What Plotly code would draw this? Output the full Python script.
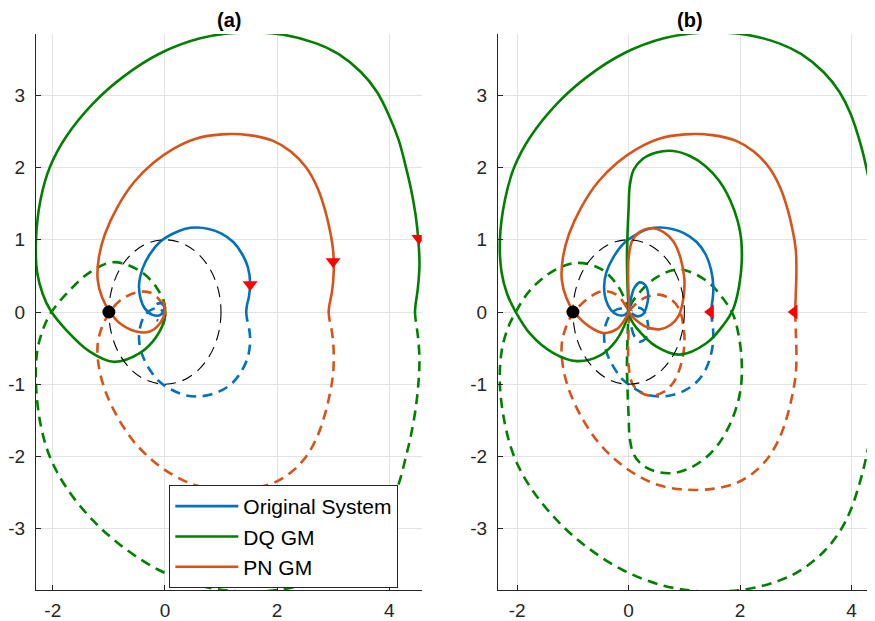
import plotly.graph_objects as go

BLUE = "#0072BD"
ORANGE = "#D95319"
GREEN = "#008000"
RED = "#FF0000"
FONT = "Liberation Sans, Arial, Helvetica, sans-serif"

# ---------------- Panel (a): positive-frequency branches (solid) ----------------
a_orig_re = [1.45, 1.46, 1.50, 1.52, 1.48, 1.38, 1.22, 1.00, 0.78, 0.57, 0.35, 0.13, -0.09, -0.27, -0.40, -0.46, -0.44, -0.36, -0.22, -0.08, -0.01, -0.06, -0.15]
a_orig_im = [0.00, 0.08, 0.22, 0.40, 0.62, 0.80, 0.97, 1.09, 1.15, 1.17, 1.15, 1.08, 0.97, 0.80, 0.60, 0.40, 0.20, 0.05, -0.04, -0.04, 0.05, 0.12, 0.11]

a_dq_re = [4.46, 4.47, 4.51, 4.54, 4.52, 4.47, 4.39, 4.30, 4.17, 3.98, 3.78, 3.50, 3.10, 2.70, 2.11, 1.34, 0.63, -0.09, -0.74, -1.28, -1.76, -2.05, -2.22, -2.30, -2.28, -2.18, -2.04, -1.76, -1.34, -0.92, -0.45, -0.15, 0.00, -0.01, -0.03]
a_dq_im = [0.00, 0.10, 0.32, 0.65, 1.00, 1.35, 1.70, 2.00, 2.38, 2.75, 3.05, 3.32, 3.57, 3.72, 3.84, 3.87, 3.79, 3.58, 3.26, 2.89, 2.43, 2.01, 1.55, 1.00, 0.55, 0.25, 0.02, -0.25, -0.55, -0.69, -0.57, -0.34, -0.07, 0.10, 0.17]

a_pn_re = [2.92, 2.93, 2.98, 3.01, 3.00, 2.95, 2.86, 2.72, 2.52, 2.25, 1.93, 1.50, 1.01, 0.55, 0.15, -0.20, -0.55, -0.85, -1.07, -1.18, -1.20, -1.12, -0.98, -0.80, -0.51, -0.27, -0.09, 0.00, -0.02, -0.05]
a_pn_im = [0.00, 0.08, 0.28, 0.55, 0.85, 1.10, 1.40, 1.72, 2.00, 2.22, 2.37, 2.45, 2.46, 2.40, 2.26, 2.07, 1.80, 1.45, 1.08, 0.75, 0.45, 0.20, 0.00, -0.16, -0.27, -0.27, -0.16, 0.00, 0.12, 0.16]

# direction arrows, panel (a)
a_arrow_re = [1.52, 3.00, 4.53]
a_arrow_im = [0.38, 0.70, 1.02]

# ---------------- Panel (b): positive-frequency branches (solid) ----------------
b_orig_re = [1.48, 1.49, 1.51, 1.52, 1.48, 1.38, 1.22, 1.00, 0.78, 0.57, 0.35, 0.13, -0.10, -0.28, -0.40, -0.44, -0.41, -0.32, -0.20, -0.07, 0.00, 0.04, 0.10, 0.20, 0.30, 0.35, 0.33, 0.26, 0.16, 0.05]
b_orig_im = [0.00, 0.08, 0.20, 0.35, 0.58, 0.80, 0.97, 1.09, 1.15, 1.17, 1.15, 1.07, 0.94, 0.75, 0.55, 0.35, 0.17, 0.03, -0.04, -0.04, 0.02, 0.18, 0.33, 0.41, 0.37, 0.25, 0.10, -0.03, -0.06, -0.02]

b_dq_re = [4.46, 4.47, 4.50, 4.52, 4.50, 4.42, 4.32, 4.17, 3.98, 3.78, 3.50, 3.10, 2.70, 2.11, 1.34, 0.63, -0.09, -0.74, -1.28, -1.76, -2.05, -2.22, -2.31, -2.28, -2.18, -2.04,
           -1.77, -1.35, -0.93, -0.51, -0.22, -0.04, 0.00, 0.04, 0.14, 0.50, 0.92, 1.40, 1.70, 1.88, 1.98, 2.03, 2.02, 1.96, 1.82, 1.62, 1.38, 1.10, 0.80, 0.50, 0.25, 0.09, 0.02, 0.00, -0.03, -0.02, 0.00]
b_dq_im = [0.00, 0.10, 0.32, 0.65, 1.00, 1.37, 1.80, 2.30, 2.75, 3.05, 3.32, 3.57, 3.72, 3.84, 3.87, 3.79, 3.58, 3.26, 2.89, 2.43, 2.01, 1.55, 1.00, 0.55, 0.25, 0.02,
           -0.30, -0.57, -0.68, -0.60, -0.39, -0.12, 0.00, -0.10, -0.22, -0.48, -0.59, -0.43, -0.18, 0.05, 0.35, 0.70, 1.00, 1.25, 1.55, 1.82, 2.02, 2.16, 2.23, 2.21, 2.12, 1.97, 1.75, 1.45, 0.80, 0.35, 0.00]

b_pn_re = [2.98, 2.99, 3.00, 3.01, 3.00, 2.95, 2.86, 2.72, 2.52, 2.25, 1.93, 1.50, 1.01, 0.55, 0.15, -0.20, -0.55, -0.85, -1.07, -1.18, -1.20, -1.12, -0.98, -0.69, -0.46, -0.20, -0.05, 0.00,
           0.00, -0.01, 0.00, 0.06, 0.20, 0.41, 0.62, 0.80, 0.93, 1.00, 0.98, 0.90, 0.75, 0.55, 0.30, 0.10, 0.00]
b_pn_im = [0.00, 0.08, 0.28, 0.55, 0.85, 1.10, 1.40, 1.72, 2.00, 2.22, 2.37, 2.45, 2.46, 2.40, 2.26, 2.07, 1.80, 1.45, 1.08, 0.75, 0.45, 0.20, 0.00, -0.21, -0.29, -0.23, -0.08, 0.00,
           0.20, 0.50, 0.75, 0.98, 1.11, 1.16, 1.11, 0.98, 0.75, 0.45, 0.18, -0.05, -0.18, -0.24, -0.20, -0.09, 0.00]

# direction arrows, panel (b)
b_arrow_re = [1.47, 2.97]
b_arrow_im = [0.00, 0.00]

# critical point and unit circle
crit_re, crit_im = -1.0, 0.0
unit_radius = 1.0

x_ticks = [-2, 0, 2, 4]
x_ticktext = ["-2", "0", "2", "4"]
y_ticks = [-3, -2, -1, 0, 1, 2, 3]
y_ticktext = ["-3", "-2", "-1", "0", "1", "2", "3"]
titles = ["(a)", "(b)"]
legend_names = ["Original System", "DQ GM", "PN GM"]


def conj(v):
    return [-t for t in v]


fig = go.Figure()

panels = [
    ("x", "y", [(a_orig_re, a_orig_im, BLUE), (a_dq_re, a_dq_im, GREEN), (a_pn_re, a_pn_im, ORANGE)],
     a_arrow_re, a_arrow_im, "triangle-down", True),
    ("x2", "y2", [(b_orig_re, b_orig_im, BLUE), (b_dq_re, b_dq_im, GREEN), (b_pn_re, b_pn_im, ORANGE)],
     b_arrow_re, b_arrow_im, "triangle-left", False),
]

for xa, ya, curves, arx, ary, arsym, show in panels:
    # negative-frequency (dashed) branches
    for (re, im, col) in curves:
        fig.add_trace(go.Scatter(x=re, y=conj(im), mode="lines", xaxis=xa, yaxis=ya,
                                 line=dict(color=col, width=2.6, dash="10px,6.5px", shape="spline", smoothing=1.0),
                                 showlegend=False, hoverinfo="skip"))
    for (re, im, col), name in zip(curves, legend_names):
        fig.add_trace(go.Scatter(x=re, y=im, mode="lines", xaxis=xa, yaxis=ya, name=name,
                                 line=dict(color=col, width=2.6, shape="spline", smoothing=1.0),
                                 showlegend=show, hoverinfo="skip"))
    fig.add_trace(go.Scatter(x=arx, y=ary, mode="markers", xaxis=xa, yaxis=ya,
                             marker=dict(symbol=arsym, size=13, color=RED, line=dict(width=0)),
                             showlegend=False, hoverinfo="skip"))
    fig.add_trace(go.Scatter(x=[crit_re], y=[crit_im], mode="markers", xaxis=xa, yaxis=ya,
                             marker=dict(symbol="circle", size=13, color="black"),
                             showlegend=False, hoverinfo="skip"))
    fig.add_shape(type="circle", xref=xa, yref=ya, x0=-unit_radius, x1=unit_radius,
                  y0=-unit_radius, y1=unit_radius, line=dict(color="black", width=1.1, dash="11px,7px"),
                  layer="above")

axis_style = dict(showline=True, linecolor="#262626", linewidth=1, ticks="inside", ticklen=5,
                  tickcolor="#262626", showgrid=True, gridcolor="#e3e3e3", gridwidth=1, zeroline=False,
                  automargin=False, tickfont=dict(family=FONT, size=19, color="#262626"), mirror=False)

# the page body adds an 8 px margin; positions below are reference pixels minus that margin
OFF = 8
W, H = 875 - OFF, 621 - OFF
ydom = [(H - (590 - OFF)) / H, (H - (34 - OFF)) / H]
fig.update_layout(
    width=W, height=H, autosize=False,
    margin=dict(l=0, r=0, t=0, b=0),
    paper_bgcolor="white", plot_bgcolor="white",
    xaxis=dict(domain=[(36 - OFF) / W, (421.7 - OFF) / W], range=[-2.30, 4.58], tickvals=x_ticks,
               ticktext=x_ticktext, anchor="y", ticklabelstandoff=3, **axis_style),
    yaxis=dict(domain=ydom, range=[-3.85, 3.85], tickvals=y_ticks, ticktext=y_ticktext, anchor="x",
               ticklabelstandoff=6, **axis_style),
    xaxis2=dict(domain=[(498 - OFF) / W, 1.0], range=[-2.344, 4.42], tickvals=x_ticks,
                ticktext=x_ticktext, anchor="y2", ticklabelstandoff=3, **axis_style),
    yaxis2=dict(domain=ydom, range=[-3.85, 3.85], tickvals=y_ticks, ticktext=y_ticktext, anchor="x2",
                ticklabelstandoff=6, **axis_style),
    legend=dict(x=(169.3 - OFF) / W, y=(H - (588 - OFF)) / H, xanchor="left", yanchor="bottom",
                bgcolor="white", bordercolor="#262626", borderwidth=1, itemwidth=63,
                font=dict(family=FONT, size=21, color="black"), tracegroupgap=0),
    showlegend=True,
)

for t, xc in zip(titles, [229, 690]):
    fig.add_annotation(text="<b>" + t + "</b>", x=(xc - OFF) / W, y=1.0,
                       xref="paper", yref="paper", showarrow=False, xanchor="center", yanchor="top",
                       borderpad=0, font=dict(family=FONT, size=20, color="black"))

fig.write_html("out.html")
